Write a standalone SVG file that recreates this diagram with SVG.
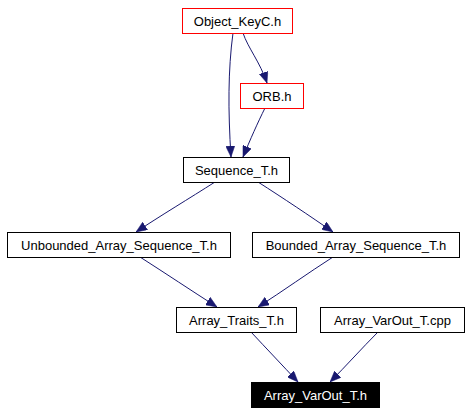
<svg xmlns="http://www.w3.org/2000/svg" width="471" height="413" viewBox="0 0 471 413">
<style>
.n rect{fill:#fff;stroke:#000;stroke-width:1}
.r rect{stroke:#f00}
.hl rect{fill:#000}
text{font-family:"Liberation Sans",Arial,sans-serif;font-size:13px;text-anchor:middle;fill:#000}
.hl text{fill:#fff}
.e path{fill:none;stroke:#191970;stroke-width:1}
</style>
<defs>
<marker id="a" viewBox="0 0 11 9" refX="11" refY="4.5" markerWidth="11" markerHeight="9" markerUnits="userSpaceOnUse" orient="auto">
<path d="M0,0 L11,4.5 L0,9 Z" fill="#191970" stroke="#191970" stroke-width="0.5"/>
</marker>
</defs>
<rect width="471" height="413" fill="#fff"/>
<g id="edges" class="e">
<path d="M233,33 C228,70 228,110 231,157" marker-end="url(#a)"/>
<path d="M243,33 C248,48 260,62 267,83" marker-end="url(#a)"/>
<path d="M265,108 C258,122 250,140 243,157" marker-end="url(#a)"/>
<path d="M215,182 C190,198 160,216 136,232" marker-end="url(#a)"/>
<path d="M258,182 C283,198 310,216 333,232" marker-end="url(#a)"/>
<path d="M140,257 C165,273 192,291 217,307" marker-end="url(#a)"/>
<path d="M333,257 C308,273 283,291 258,307" marker-end="url(#a)"/>
<path d="M251,332 C266,348 283,366 298,382" marker-end="url(#a)"/>
<path d="M378,332 C362,348 346,366 330,382" marker-end="url(#a)"/>
</g>
<g id="n_object_keyc" class="n r"><rect x="182.5" y="8.5" width="110" height="25"/><text x="237.5" y="25.5">Object_KeyC.h</text></g>
<g id="n_orb" class="n r"><rect x="240.5" y="83.5" width="63" height="25"/><text x="272" y="100.5">ORB.h</text></g>
<g id="n_sequence" class="n"><rect x="183.5" y="157.5" width="106" height="25"/><text x="236.5" y="174.5">Sequence_T.h</text></g>
<g id="n_unbounded" class="n"><rect x="7.5" y="232.5" width="223" height="25"/><text x="119" y="249.5">Unbounded_Array_Sequence_T.h</text></g>
<g id="n_bounded" class="n"><rect x="252.5" y="232.5" width="207" height="25"/><text x="356" y="249.5">Bounded_Array_Sequence_T.h</text></g>
<g id="n_traits" class="n"><rect x="176.5" y="307.5" width="120" height="25"/><text x="236.5" y="324.5">Array_Traits_T.h</text></g>
<g id="n_varout_cpp" class="n"><rect x="320.5" y="307.5" width="144" height="25"/><text x="392.5" y="324.5">Array_VarOut_T.cpp</text></g>
<g id="n_varout_h" class="n hl"><rect x="251.5" y="382.5" width="128" height="25"/><text x="315.5" y="399.5">Array_VarOut_T.h</text></g>
</svg>
